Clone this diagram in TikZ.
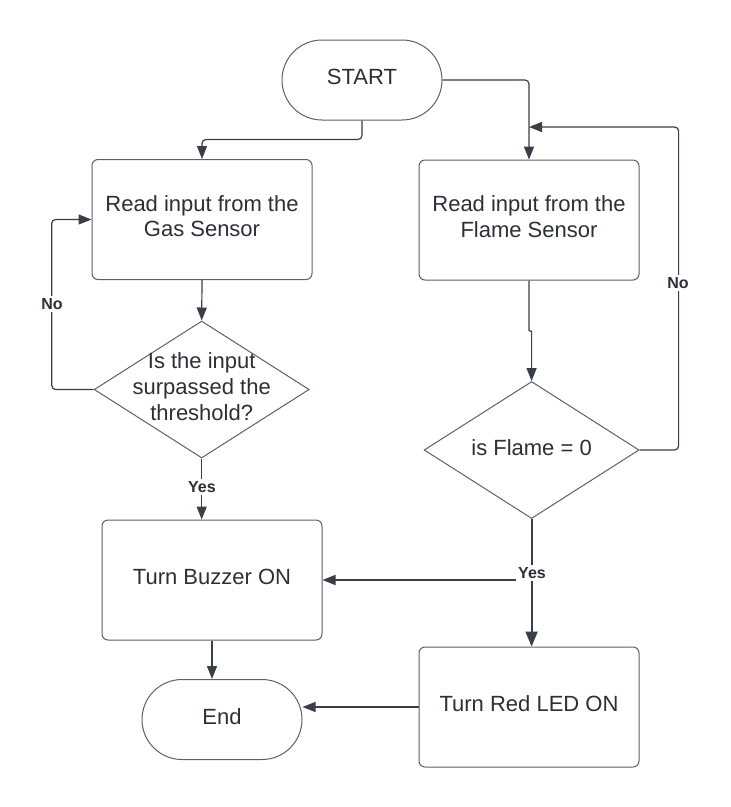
\documentclass[tikz,border=0pt]{standalone}
\usepackage{fontspec}
\setmainfont{Liberation Sans}
\usetikzlibrary{shapes.geometric,arrows.meta}
\definecolor{txt}{HTML}{2B3038}
\definecolor{edge}{HTML}{5C6169}
\definecolor{ln}{HTML}{3A3F47}
\tikzset{
  procbox/.style={draw=edge, line width=1pt, rounded corners=6pt, minimum width=220pt, minimum height=120pt, align=center, text=txt, font=\fontsize{22}{25.7}\selectfont, inner sep=0pt, text depth=7pt},
  termbox/.style={draw=edge, line width=1pt, rounded corners=40pt, minimum width=160pt, minimum height=80pt, text=txt, font=\fontsize{22}{25.7}\selectfont, inner sep=0pt, text depth=6.5pt},
  decbox/.style={draw=edge, line width=1pt, diamond, minimum width=215pt, minimum height=137pt, inner sep=0pt},
  dectext/.style={align=center, text=txt, font=\fontsize{22}{26}\selectfont, inner sep=0pt},
  arr/.style={draw=ln, line width=1.2pt, rounded corners=4pt, -{Triangle[length=13pt,width=10pt]}},
  thickarr/.style={draw=ln, line width=2pt, -{Triangle[length=15pt,width=12pt]}},
  lbl/.style={fill=white, text=txt, font=\bfseries\fontsize{16}{18}\selectfont, inner sep=2pt},
}
\begin{document}
\begin{tikzpicture}[x=1pt,y=-1pt]
\useasboundingbox (0,0) rectangle (731,807);
\fill[white] (0,0) rectangle (731,807);

\node[termbox] (start) at (362,80) {START};
\node[procbox] (gas) at (202,219.5) {Read input from the\\Gas Sensor};
\node[procbox] (flame) at (529,220) {Read input from the\\Flame Sensor};
\node[decbox] (gd) at (201.7,389.5) {};
\node[dectext] (gdt) at (201.7,387) {Is the input\\surpassed the\\threshold?};
\node[decbox] (fd) at (531.6,450) {};
\node[dectext] (fdt) at (531.6,448) {is Flame = 0};
\node[procbox] (buzz) at (212,580) {Turn Buzzer ON};
\node[procbox] (led) at (529,707) {Turn Red LED ON};
\node[termbox] (end) at (222,719.5) {End};

\coordinate (fin) at (529,127);
\coordinate (yj) at (517,580);

% connectors
\draw[arr] (start.south) -- ++(0,19) -| (gas.north);
\draw[arr] (start.east) -| (flame.north);
\draw[arr] (gas.south) -- (gd.north);
\draw[arr] (gd.west) -- ++(-42,0) |- (gas.west);
\draw[arr] (gd.south) -- (gd.south |- buzz.north);
\draw[arr, rounded corners=0pt] (flame.south) -- ++(0,50) -- ++(2.6,1) -- (fd.north);
\draw[arr] (fd.east) -- ++(39,0) |- (fin);
\draw[thickarr] (fd.south) -- (fd.south |- led.north);
\draw[arr] (yj) -- (buzz.east);
\draw[arr] (buzz.south) -- (buzz.south |- end.north);
\draw[arr] (led.west) -- (led.west -| end.east);

% labels
\node[lbl] (noL) at (52,304) {No};
\node[lbl] (yesL) at (202,487) {Yes};
\node[lbl] (noR) at (678,283) {No};
\node[lbl] (yesR) at (532,573) {Yes};
\end{tikzpicture}
\end{document}
